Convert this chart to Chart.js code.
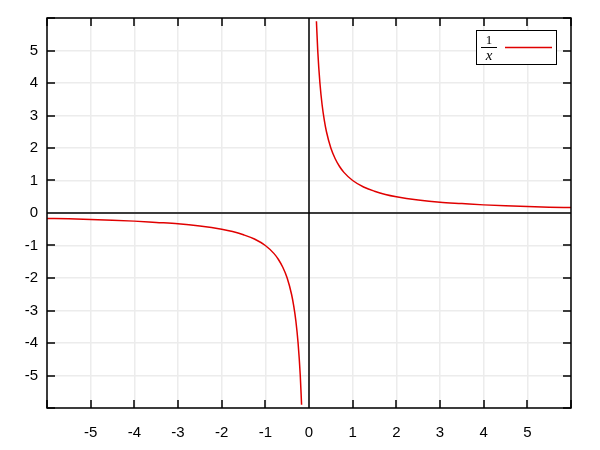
<!DOCTYPE html>
<html>
<head>
<script src="https://cdn.jsdelivr.net/npm/chart.js@4"></script>
<style>body{margin:0;background:#fff}#wrap{width:600px;height:450px}</style>
</head>
<body>
<div id="wrap"><canvas id="c"></canvas></div>
<script>
// values
const rightX = [0.17, 0.2, 0.25, 0.3, 0.35, 0.4, 0.5, 0.6, 0.7, 0.8, 1, 1.25, 1.5, 1.75, 2, 2.5, 3, 3.5, 4, 4.5, 5, 5.5, 6];
const rightY = [5.9, 5, 4, 3.33, 2.86, 2.5, 2, 1.67, 1.43, 1.25, 1, 0.8, 0.67, 0.57, 0.5, 0.4, 0.33, 0.29, 0.25, 0.22, 0.2, 0.18, 0.17];
const leftX = [-6, -5.5, -5, -4.5, -4, -3.5, -3, -2.5, -2, -1.75, -1.5, -1.25, -1, -0.8, -0.7, -0.6, -0.5, -0.4, -0.35, -0.3, -0.25, -0.2, -0.17];
const leftY = [-0.17, -0.18, -0.2, -0.22, -0.25, -0.29, -0.33, -0.4, -0.5, -0.57, -0.67, -0.8, -1, -1.25, -1.43, -1.67, -2, -2.5, -2.86, -3.33, -4, -5, -5.9];
const tickValues = [-6, -5, -4, -3, -2, -1, 0, 1, 2, 3, 4, 5, 6];

const pts = (xs, ys) => xs.map((x, i) => ({x: x, y: ys[i]}));
const FONT = "Liberation Sans";

const decor = {
  id: "decor",
  afterDatasetsDraw(chart) {
    const {ctx, chartArea: a, scales: {x, y}} = chart;
    ctx.save();
    ctx.strokeStyle = "#000";
    ctx.lineWidth = 1.5;
    ctx.beginPath();
    tickValues.forEach(v => {
      const px = Math.round(x.getPixelForValue(v));
      const py = Math.round(y.getPixelForValue(v));
      ctx.moveTo(px, a.bottom); ctx.lineTo(px, a.bottom - 8);
      ctx.moveTo(px, a.top); ctx.lineTo(px, a.top + 8);
      ctx.moveTo(a.left, py); ctx.lineTo(a.left + 8, py);
      ctx.moveTo(a.right, py); ctx.lineTo(a.right - 8, py);
    });
    const x0 = Math.round(x.getPixelForValue(0));
    const y0 = Math.round(y.getPixelForValue(0));
    ctx.moveTo(x0, a.top); ctx.lineTo(x0, a.bottom);
    ctx.moveTo(a.left, y0); ctx.lineTo(a.right, y0);
    ctx.stroke();
    ctx.strokeRect(a.left, a.top, a.right - a.left, a.bottom - a.top);
    // legend
    ctx.lineWidth = 1;
    ctx.fillStyle = "#fff";
    ctx.fillRect(476, 30, 80, 34);
    ctx.strokeRect(476.5, 30.5, 80, 34);
    ctx.fillStyle = "#000";
    ctx.textAlign = "center";
    ctx.textBaseline = "alphabetic";
    ctx.font = "13px Liberation Serif";
    ctx.fillText("1", 489, 44);
    ctx.font = "italic 15px Liberation Serif";
    ctx.fillText("x", 489, 60);
    ctx.beginPath();
    ctx.moveTo(481, 47.5); ctx.lineTo(497, 47.5);
    ctx.stroke();
    ctx.strokeStyle = "#e00000";
    ctx.lineWidth = 1.5;
    ctx.beginPath();
    ctx.moveTo(505, 47.5); ctx.lineTo(552, 47.5);
    ctx.stroke();
    ctx.restore();
  }
};

new Chart(document.getElementById("c"), {
  type: "scatter",
  data: {
    datasets: [
      {data: pts(leftX, leftY), showLine: true, borderColor: "#e00000", borderWidth: 1.5, pointRadius: 0, cubicInterpolationMode: "monotone"},
      {data: pts(rightX, rightY), showLine: true, borderColor: "#e00000", borderWidth: 1.5, pointRadius: 0, cubicInterpolationMode: "monotone"}
    ]
  },
  options: {
    responsive: true,
    maintainAspectRatio: false,
    animation: false,
    layout: {padding: {top: 18, right: 29, left: 0, bottom: 0}},
    plugins: {legend: {display: false}, tooltip: {enabled: false}},
    scales: {
      x: {
        type: "linear", min: -6, max: 6,
        afterBuildTicks: s => { s.ticks = tickValues.map(v => ({value: v})); },
        afterFit: s => { s.height = 42; },
        grid: {color: "#ececec", lineWidth: 1.5, drawTicks: false},
        border: {display: false},
        ticks: {padding: 16, color: "#000", font: {family: FONT, size: 15},
          callback: v => (Math.abs(v) === 6 ? "" : v)}
      },
      y: {
        type: "linear", min: -6, max: 6,
        afterBuildTicks: s => { s.ticks = tickValues.map(v => ({value: v})); },
        afterFit: s => { s.width = 47; },
        grid: {color: "#ececec", lineWidth: 1.5, drawTicks: false},
        border: {display: false},
        ticks: {padding: 9, color: "#000", font: {family: FONT, size: 15},
          callback: v => (Math.abs(v) === 6 ? "" : v)}
      }
    }
  },
  plugins: [decor]
});
</script>
</body>
</html>
